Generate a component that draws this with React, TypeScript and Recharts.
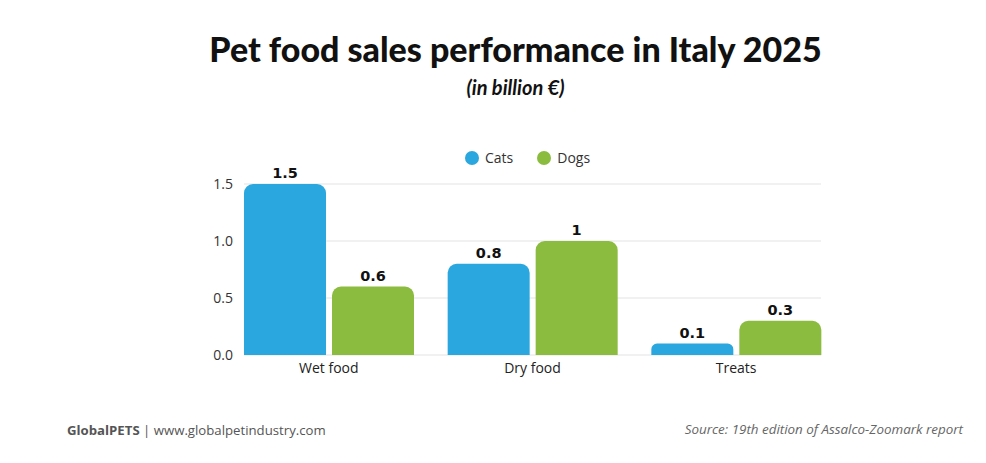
import { BarChart, Bar, XAxis, YAxis, CartesianGrid, Legend, LabelList } from 'recharts';

const categories = ['Wet food', 'Dry food', 'Treats'];
const cats = [1.5, 0.8, 0.1];
const dogs = [0.6, 1, 0.3];
const yTicks = [0, 0.5, 1, 1.5];

const BLUE = '#2AA7DF';
const GREEN = '#8BBC3F';

const data = categories.map((name, i) => ({ name, Cats: cats[i], Dogs: dogs[i] }));

const FONT = '"Open Sans", sans-serif';

function LegendContent() {
    const items = [
        { label: 'Cats', color: BLUE },
        { label: 'Dogs', color: GREEN },
    ];
    return (
        <div style={{ display: 'flex', alignItems: 'center', fontFamily: FONT, fontSize: 14, color: '#333' }}>
            {items.map(it => (
                <div key={it.label} style={{ display: 'flex', alignItems: 'center', marginRight: 24 }}>
                    <span style={{ width: 14, height: 14, borderRadius: 7, background: it.color, marginRight: 6, display: 'inline-block' }} />
                    <span>{it.label}</span>
                </div>
            ))}
        </div>
    );
}

export default function App() {
    return (
        <div style={{ position: 'absolute', left: 0, top: 0, width: 986, height: 463, background: '#fff', overflow: 'hidden' }}>
            <div style={{ position: 'absolute', left: 0, top: 28, width: 1031, textAlign: 'center', fontFamily: 'Lato, sans-serif', fontWeight: 900, fontSize: 34, color: '#111' }}>
                Pet food sales performance in Italy 2025
            </div>
            <div style={{ position: 'absolute', left: 0, top: 75, width: 1031, textAlign: 'center', fontFamily: 'Lato, sans-serif', fontWeight: 700, fontStyle: 'italic', fontSize: 20, color: '#111' }}>
                (in billion €)
            </div>
            <div style={{ position: 'absolute', left: 0, top: 0 }}>
                <BarChart
                    width={986}
                    height={463}
                    data={data}
                    margin={{ top: 184, right: 165, bottom: 78, left: 204 }}
                    barCategoryGap={17}
                    barGap={6}
                >
                    <CartesianGrid vertical={false} stroke="#e3e3e3" />
                    <XAxis
                        dataKey="name"
                        axisLine={false}
                        tickLine={false}
                        padding={{ left: -17, right: -17 }}
                        tick={{ fontFamily: FONT, fontSize: 14, fill: '#222' }}
                    />
                    <YAxis
                        width={40}
                        domain={[0, 1.5]}
                        ticks={yTicks}
                        axisLine={false}
                        tickLine={false}
                        tickMargin={5}
                        tickFormatter={(v: number) => v.toFixed(1)}
                        tick={{ fontFamily: FONT, fontSize: 14, fill: '#333' }}
                    />
                    <Legend
                        verticalAlign="middle"
                        layout="horizontal"
                        content={<LegendContent />}
                        wrapperStyle={{ top: 148, left: 465, width: 200 }}
                    />
                    <Bar dataKey="Cats" fill={BLUE} radius={[9, 9, 0, 0]} isAnimationActive={false}>
                        <LabelList dataKey="Cats" position="top" offset={6} style={{ fontFamily: '"DejaVu Sans", sans-serif', fontWeight: 700, fontSize: 14.5, fill: '#111' }} />
                    </Bar>
                    <Bar dataKey="Dogs" fill={GREEN} radius={[9, 9, 0, 0]} isAnimationActive={false}>
                        <LabelList dataKey="Dogs" position="top" offset={6} style={{ fontFamily: '"DejaVu Sans", sans-serif', fontWeight: 700, fontSize: 14.5, fill: '#111' }} />
                    </Bar>
                </BarChart>
            </div>
            <div style={{ position: 'absolute', left: 67, top: 421, fontFamily: FONT, fontSize: 13.2, color: '#555' }}>
                <b>GlobalPETS</b> | www.globalpetindustry.com
            </div>
            <div style={{ position: 'absolute', right: 23, top: 420, fontFamily: FONT, fontStyle: 'italic', fontSize: 13.4, color: '#666' }}>
                Source: 19th edition of Assalco-Zoomark report
            </div>
        </div>
    );
}
